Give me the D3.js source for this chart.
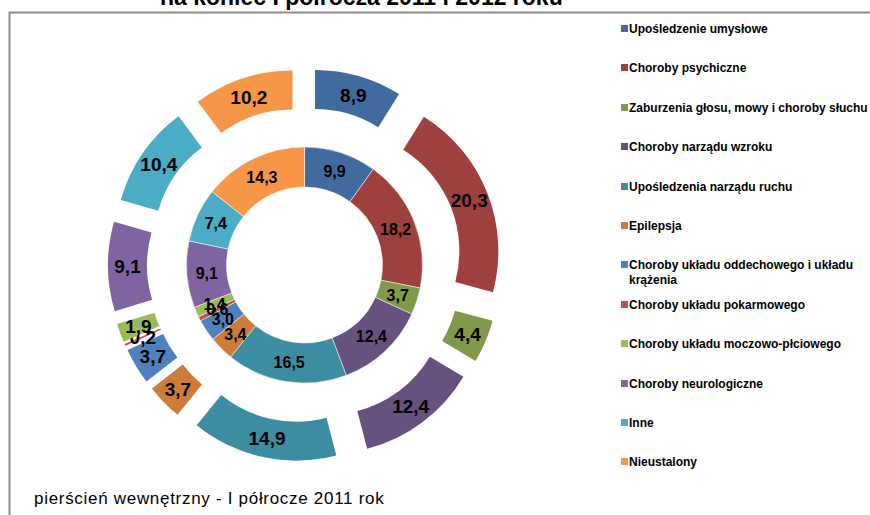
<!DOCTYPE html>
<html><head><meta charset="utf-8">
<script src="https://cdn.jsdelivr.net/npm/d3@7"></script>
<style>body{margin:0;background:#fff}svg{display:block;font-family:"Liberation Sans",Arial,sans-serif}</style>
</head><body>
<svg id="c" width="870" height="515"></svg>
<script>
const categories = ["Upośledzenie umysłowe","Choroby psychiczne","Zaburzenia głosu, mowy i choroby słuchu","Choroby narządu wzroku","Upośledzenia narządu ruchu","Epilepsja","Choroby układu oddechowego i układu krążenia","Choroby układu pokarmowego","Choroby układu moczowo-płciowego","Choroby neurologiczne","Inne","Nieustalony"];
const inner2011 = [9.9,18.2,3.7,12.4,16.5,3.4,3.0,0.6,1.4,9.1,7.4,14.3];
const outer2012 = [8.9,20.3,4.4,12.4,14.9,3.7,3.7,0.2,1.9,9.1,10.4,10.2];
const colors = ["#416B9F","#9D403E","#7F9A48","#67517F","#3D8DA2","#CE7D38","#4F81BD","#C0504D","#9BBB59","#8064A2","#4BACC6","#F79646"];
const titleText = "na koniec I półrocza 2011 i 2012 roku";
const noteText = "pierścień wewnętrzny - I półrocze 2011 rok";

const svg = d3.select("#c");
const cx = 304.5, cy = 265;
const fmt = v => d3.format(".1f")(v).replace(".", ",");

// frame
svg.append("path").attr("d","M9.5,515 L9.5,12.5 L870,12.5").attr("fill","none").attr("stroke","#8c8c8c").attr("stroke-width",2);

// title (clipped at top)
svg.append("text").attr("x",160).attr("y",5).attr("font-size",23).attr("font-weight","bold").text(titleText);

const pie = d3.pie().sort(null).value(d => d);
const g = svg.append("g").attr("transform",`translate(${cx},${cy})`);

// inner ring
const arcIn = d3.arc().innerRadius(78).outerRadius(118);
const inArcs = pie(inner2011);
g.selectAll("path.in").data(inArcs).join("path").attr("class","in")
  .attr("d",arcIn).attr("fill",(d,i)=>colors[i]).attr("stroke","#fff").attr("stroke-width",0.5);
g.selectAll("text.in").data(inArcs).join("text").attr("class","in")
  .attr("transform",d=>`translate(${arcIn.centroid(d)})`)
  .attr("text-anchor","middle").attr("dy","0.36em")
  .attr("font-size",16).attr("font-weight","bold").text(d=>fmt(d.data));

// outer exploded ring
const arcOut = d3.arc().innerRadius(119.5).outerRadius(158.5);
const ex = 38;
const outArcs = pie(outer2012);
const off = d => { const a=(d.startAngle+d.endAngle)/2; return [ex*Math.sin(a), -ex*Math.cos(a)]; };
const og = g.selectAll("g.out").data(outArcs).join("g").attr("class","out")
  .attr("transform",d=>`translate(${off(d)})`);
og.append("path").attr("d",arcOut).attr("fill",(d,i)=>colors[i]);
og.append("text").attr("transform",d=>`translate(${arcOut.centroid(d)})`)
  .attr("text-anchor","middle").attr("dy","0.36em")
  .attr("font-size",19).attr("font-weight","bold").text(d=>fmt(d.data));

// legend
const lg = svg.append("g");
const ly = [29,68,108,147,187,226,265,305,344,384,423,462];
categories.forEach((c,i)=>{
  lg.append("rect").attr("x",621).attr("y",ly[i]-4).attr("width",7).attr("height",7).attr("fill",colors[i]);
  const t = lg.append("text").attr("x",629).attr("y",ly[i]+4).attr("font-size",12).attr("font-weight","bold");
  if (i===6) {
    t.append("tspan").attr("x",629).text("Choroby układu oddechowego i układu");
    t.append("tspan").attr("x",629).attr("dy",15).text("krążenia");
  } else t.text(c);
});

// note
svg.append("text").attr("x",34).attr("y",504).attr("font-size",17).attr("letter-spacing",0.7).text(noteText);
</script>
</body></html>
